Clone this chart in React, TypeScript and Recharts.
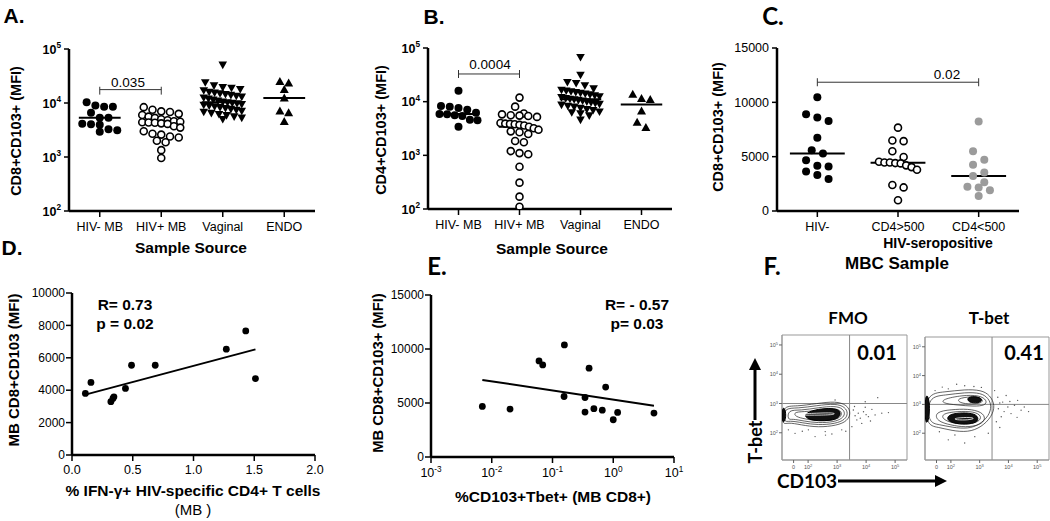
import React from 'react';
import { ScatterChart, Scatter, XAxis, YAxis, ReferenceLine, ReferenceArea } from 'recharts';

const ARIAL = '"Liberation Sans", Arial, sans-serif';
const CALIBRI = 'Lato, "Open Sans", sans-serif';

// A. CD8+CD103+ MFI by sample source (log axis)
const sourceCats = ['HIV- MB', 'HIV+ MB', 'Vaginal', 'ENDO'];
const aHivNegMB = [10350, 9000, 8500, 8500, 6600, 5350, 5350, 4150, 4050, 3960, 3250, 3130, 2950];
const aHivPosMB = [8370, 7500, 7000, 6800, 6300, 6000, 5600, 5300, 5000, 4800, 4600, 4500, 4400, 4350, 4300, 4200, 4100, 3700, 3500, 3000, 2700, 2600, 2400, 2300, 2000, 1870, 1340, 960];
const aVaginal = [50800, 24000, 21000, 19500, 19000, 18000, 17000, 16000, 15500, 15000, 14500, 14000, 13500, 13000, 12500, 12000, 11500, 11000, 10500, 10200, 10000, 9800, 9500, 9200, 8900, 8600, 8300, 8000, 7700, 7400, 7100, 6800, 6500, 6200, 5900, 5600, 5300, 5000];
const aEndo = [25000, 23400, 17700, 12400, 7100, 6600, 4520];

// B. CD4+CD103+ MFI by sample source (log axis)
const bHivNegMB = [16000, 8300, 8000, 7600, 7100, 6200, 5900, 5800, 5600, 5400, 4600, 4500, 3400];
const bHivPosMB = [11900, 8070, 6000, 5800, 5600, 5500, 5400, 5200, 4000, 3900, 3850, 3800, 3700, 3600, 3400, 3200, 3000, 2800, 2700, 2500, 1850, 1750, 1200, 1100, 1050, 614, 310, 170, 110];
const bVaginal = [67100, 31400, 23000, 22000, 20000, 17500, 16500, 16000, 15500, 15000, 14500, 14000, 13500, 13000, 12500, 12000, 11500, 11200, 11000, 10700, 10400, 10000, 9700, 9400, 9000, 8700, 8300, 8000, 7600, 7200, 6900, 6500, 6300, 6000, 5500, 4570];
const bEndo = [13700, 11500, 11000, 6700, 4140, 3300];

// C. CD8+CD103+ MFI in MBC samples
const mbcCats = ['HIV-', 'CD4>500', 'CD4<500'];
const cHivNeg = [10466, 8913, 8600, 8292, 6740, 5590, 5280, 4660, 4160, 4100, 3630, 3320, 2950];
const cCd4Above500 = [7670, 6490, 6430, 5500, 4970, 4530, 4470, 4470, 4410, 4380, 4200, 4040, 3790, 2390, 2170, 990];
const cCd4Below500 = [8230, 5500, 4720, 4250, 3540, 3230, 2640, 2230, 2170, 1920, 1370];

// D. correlation with % IFN-g+ HIV-specific CD4+ T cells
const dIfngPct = [0.11, 0.156, 0.32, 0.337, 0.345, 0.44, 0.49, 0.685, 1.27, 1.43, 1.51];
const dCd8Mfi = [3800, 4480, 3290, 3490, 3590, 4110, 5540, 5540, 6530, 7660, 4720];

// E. correlation with %CD103+Tbet+
const eTbetPct = [0.007, 0.02, 0.06, 0.069, 0.157, 0.155, 0.343, 0.343, 0.4, 0.48, 0.66, 0.75, 1.0, 1.18, 4.68];
const eCd8Mfi = [4680, 4435, 8900, 8530, 10380, 5600, 5510, 4160, 8220, 4470, 4340, 6470, 3450, 4130, 4070];

// F. flow plots, coordinates in decades (CD103, T-bet)
const fmoRing1 = [[1.1, 2.93], [1.6, 2.9], [2.3, 3.0], [2.95, 3.08], [3.35, 2.95], [3.48, 2.67], [3.35, 2.4], [3.0, 2.25], [2.35, 2.18], [1.75, 2.27], [1.3, 2.36], [1.1, 2.25]];
const fmoRing2 = [[1.15, 2.86], [1.65, 2.83], [2.3, 2.93], [2.95, 3.0], [3.28, 2.88], [3.38, 2.66], [3.28, 2.45], [2.95, 2.31], [2.35, 2.26], [1.8, 2.34], [1.35, 2.42], [1.15, 2.34]];
const fmoRing3 = [[1.3, 2.79], [1.75, 2.76], [2.35, 2.86], [2.95, 2.92], [3.2, 2.82], [3.28, 2.65], [3.18, 2.49], [2.9, 2.37], [2.35, 2.33], [1.85, 2.4], [1.45, 2.48], [1.3, 2.43]];
const fmoRing4 = [[1.5, 2.72], [2.0, 2.72], [2.5, 2.8], [3.0, 2.84], [3.18, 2.7], [3.12, 2.52], [2.85, 2.43], [2.35, 2.4], [1.9, 2.47], [1.55, 2.55]];
const fmoCore = [[2.1, 2.76], [2.6, 2.84], [3.0, 2.82], [3.14, 2.68], [3.05, 2.5], [2.8, 2.42], [2.35, 2.4], [2.0, 2.46], [1.85, 2.6]];
const fmoStreak = [[1.6, 2.64], [2.3, 2.67], [2.9, 2.69], [2.95, 2.62], [2.4, 2.6], [1.7, 2.6]];
const fmoFloor = [[1.1, 2.86], [1.2, 2.84], [1.24, 2.6], [1.2, 2.38], [1.1, 2.35]];
const fmoEvents = [[3.56, 2.78], [3.73, 2.67], [3.91, 2.72], [4.08, 2.55], [4.31, 2.61], [3.68, 2.44], [3.97, 2.87], [4.2, 2.8], [4.54, 2.67], [4.77, 2.69], [3.85, 2.32], [3.51, 2.21], [3.16, 2.1], [2.59, 2.04], [2.01, 2.1], [1.55, 1.98], [2.24, 1.87], [2.82, 1.96], [1.32, 2.1], [3.97, 3.06], [2.93, 3.12], [4.4, 3.2], [3.62, 2.58], [3.8, 2.5], [4.0, 2.62], [3.6, 2.9], [1.8, 2.05], [2.6, 1.92], [3.3, 2.05], [4.15, 2.4]];

const tbetRing1 = [[1.12, 3.38], [1.79, 3.43], [2.48, 3.52], [3.06, 3.5], [3.36, 3.32], [3.54, 2.97], [3.42, 2.57], [3.06, 2.21], [2.6, 2.03], [2.02, 2.09], [1.56, 2.21], [1.12, 2.27]];
const tbetRing2 = [[1.2, 3.27], [1.8, 3.32], [2.5, 3.42], [3.05, 3.4], [3.3, 3.22], [3.42, 2.95], [3.32, 2.6], [3.0, 2.3], [2.6, 2.15], [2.05, 2.2], [1.6, 2.3], [1.2, 2.36]];
const tbetUpper = [[1.7, 3.18], [2.4, 3.32], [3.0, 3.32], [3.26, 3.14], [3.2, 2.96], [2.8, 2.93], [2.2, 2.98], [1.7, 3.04]];
const tbetUpper2 = [[2.2, 3.2], [2.7, 3.28], [3.1, 3.22], [3.12, 3.05], [2.7, 3.0], [2.3, 3.05]];
const tbetLower = [[1.45, 2.74], [2.0, 2.82], [2.6, 2.85], [3.08, 2.74], [3.22, 2.5], [3.02, 2.28], [2.5, 2.2], [2.0, 2.28], [1.5, 2.42]];
const tbetLower2 = [[1.7, 2.68], [2.2, 2.76], [2.8, 2.76], [3.08, 2.6], [2.98, 2.38], [2.5, 2.3], [2.0, 2.36], [1.7, 2.5]];
const tbetCore = [[1.95, 2.66], [2.4, 2.72], [2.85, 2.68], [2.98, 2.5], [2.85, 2.34], [2.4, 2.3], [2.0, 2.37], [1.85, 2.5]];
const tbetUpperCore = [[2.55, 3.27], [2.95, 3.28], [3.12, 3.15], [2.95, 3.04], [2.6, 3.06]];
const tbetStreak = [[2.15, 2.53], [2.7, 2.56], [2.85, 2.5], [2.5, 2.45], [2.1, 2.47]];
const tbetFloor = [[1.1, 3.34], [1.22, 3.3], [1.27, 2.85], [1.22, 2.4], [1.1, 2.3]];
const tbetEvents = [[3.63, 3.25], [3.8, 3.08], [3.98, 2.91], [4.21, 2.97], [4.44, 2.8], [4.09, 2.68], [3.75, 2.57], [3.58, 2.4], [3.92, 3.31], [4.32, 3.14], [4.55, 2.91], [3.52, 3.48], [3.06, 3.59], [2.48, 3.65], [1.91, 3.54], [1.45, 3.48], [2.14, 1.94], [2.83, 1.88], [1.91, 1.77], [2.48, 1.66], [4.7, 2.75], [3.7, 2.2], [3.65, 2.85], [3.85, 2.75], [4.05, 3.1], [3.7, 3.05], [4.3, 2.55], [1.7, 3.6], [2.2, 3.7], [2.8, 3.62], [1.6, 2.05], [3.3, 2.0]];

type Rect = { x0: number; y0: number; x1: number; y1: number };

function frame(p: Rect, yW: number, xH: number, pad = { t: 12, r: 14, b: 4, l: 4 }) {
  return {
    style: { position: 'absolute' as const, left: p.x0 - yW - pad.l, top: p.y0 - pad.t },
    width: p.x1 - p.x0 + yW + pad.l + pad.r,
    height: p.y1 - p.y0 + xH + pad.t + pad.b,
    margin: { top: pad.t, right: pad.r, bottom: pad.b, left: pad.l },
  };
}

// column-scatter layout: points closer than d px vertically share a row, rows are spread symmetrically
function rowOffsets(pys: number[], d: number, half: number): number[] {
  const order = pys.map((_, i) => i).sort((a, b) => pys[a] - pys[b]);
  const out = new Array(pys.length).fill(0);
  let k = 0;
  while (k < order.length) {
    const start = pys[order[k]];
    const row: number[] = [];
    while (k < order.length && pys[order[k]] - start < d) row.push(order[k++]);
    const n = row.length;
    const step = n > 1 ? Math.min(d * 1.25, (2 * half) / (n - 1)) : 0;
    row.forEach((idx, j) => { out[idx] = (j - (n - 1) / 2) * step; });
  }
  return out;
}

function median(v: number[]) {
  const s = [...v].sort((a, b) => a - b);
  const m = Math.floor(s.length / 2);
  return s.length % 2 ? s[m] : (s[m - 1] + s[m]) / 2;
}

function linFit(xs: number[], ys: number[]) {
  const mx = xs.reduce((a, b) => a + b, 0) / xs.length;
  const my = ys.reduce((a, b) => a + b, 0) / ys.length;
  let sxy = 0, sxx = 0;
  xs.forEach((x, i) => { sxy += (x - mx) * (ys[i] - my); sxx += (x - mx) ** 2; });
  const b = sxy / sxx;
  return { a: my - b * mx, b };
}

const dotFilled = (p: any) => <circle cx={p.cx} cy={p.cy} r={4} fill="#000" />;
const dotOpen = (p: any) => <circle cx={p.cx} cy={p.cy} r={3.5} fill="#fff" stroke="#000" strokeWidth={1.6} />;
const dotGray = (p: any) => <circle cx={p.cx} cy={p.cy} r={4} fill="#9b9b9b" />;
const triDown = (p: any) => <path d={`M${p.cx - 4.3},${p.cy - 3.3}L${p.cx + 4.3},${p.cy - 3.3}L${p.cx},${p.cy + 4.3}Z`} fill="#000" />;
const triUp = (p: any) => <path d={`M${p.cx - 4.5},${p.cy + 3.5}L${p.cx + 4.5},${p.cy + 3.5}L${p.cx},${p.cy - 4.5}Z`} fill="#000" />;
const dotSmall = (p: any) => <circle cx={p.cx} cy={p.cy} r={3.4} fill="#000" />;
const noDot = () => <g />;

function PowTick(props: any) {
  const { x, y, payload, textAnchor, size, bold, axis } = props;
  const e = Math.round(Math.log10(payload.value));
  return (
    <text x={x} y={y} dy={axis === 'y' ? size * 0.36 : size * 0.71} textAnchor={textAnchor} fontSize={size}
      fontWeight={bold ? 700 : 400} fontFamily={ARIAL} fill="#000">
      10<tspan dy={-size * 0.42} fontSize={size * 0.66}>{String(e)}</tspan>
    </text>
  );
}

function FlowTick(props: any) {
  const { x, y, payload, textAnchor, axis } = props;
  const v = payload.value;
  return (
    <text x={x} y={y} dy={axis === 'y' ? 2 : 4} textAnchor={textAnchor} fontSize={5.5} fill="#555" fontFamily={ARIAL}>
      {v < 1.8 ? '0' : <>10<tspan dy={-2} fontSize={4}>{Math.round(v)}</tspan></>}
    </text>
  );
}

const thickAxis = { stroke: '#000', strokeWidth: 2.5 };
const thinTick = { stroke: '#000', strokeWidth: 1.5 };

type Group = { values: number[]; shape: (p: any) => React.ReactElement };

function DotPanel({ plot, cats, groups, log, domain, ticks, boldTicks, dia, half, bracket }: {
  plot: Rect; cats: string[]; groups: Group[]; log: boolean; domain: [number, number]; ticks: number[];
  boldTicks: boolean; dia: number; half: number; bracket: { from: number; to: number; y: number; y0: number; y1: number };
}) {
  const W = plot.x1 - plot.x0, H = plot.y1 - plot.y0;
  const band = W / cats.length;
  const toPx = (v: number) => log
    ? H * (Math.log10(domain[1]) - Math.log10(v)) / (Math.log10(domain[1]) - Math.log10(domain[0]))
    : H * (domain[1] - v) / (domain[1] - domain[0]);
  const yW = 50, xH = 30;
  const f = frame(plot, yW, xH);
  return (
    <div style={f.style}>
      <ScatterChart width={f.width} height={f.height} margin={f.margin}>
        <XAxis type="number" dataKey="x" domain={[-0.5, cats.length - 0.5]} ticks={cats.map((_, i) => i)}
          tickFormatter={(i: number) => cats[i]} interval={0} height={xH} allowDataOverflow
          axisLine={thickAxis} tickLine={thinTick} tickSize={6} tickMargin={5}
          tick={{ fill: '#000', fontSize: 12.5, fontFamily: ARIAL }} />
        <YAxis type="number" dataKey="y" scale={log ? 'log' : 'linear'} domain={domain} ticks={ticks} width={yW}
          allowDataOverflow axisLine={thickAxis} tickLine={thinTick} tickSize={5} tickMargin={3}
          tick={log ? (p: any) => <PowTick {...p} size={12.5} bold={boldTicks} axis="y" />
            : { fill: '#000', fontSize: 12.5, fontFamily: ARIAL }} />
        {groups.map((g, gi) => {
          const offs = rowOffsets(g.values.map(toPx), dia, half);
          const data = g.values.map((v, k) => ({ x: gi + offs[k] / band, y: v }));
          return <Scatter key={gi} data={data} shape={g.shape} isAnimationActive={false} />;
        })}
        {groups.map((g, gi) => (
          <ReferenceLine key={'m' + gi} ifOverflow="visible" stroke="#000" strokeWidth={2}
            segment={[{ x: gi - 0.34, y: median(g.values) }, { x: gi + 0.34, y: median(g.values) }]} />
        ))}
        <ReferenceLine ifOverflow="visible" stroke="#333" strokeWidth={1}
          segment={[{ x: bracket.from, y: bracket.y }, { x: bracket.to, y: bracket.y }]} />
        <ReferenceLine ifOverflow="visible" stroke="#333" strokeWidth={1}
          segment={[{ x: bracket.from, y: bracket.y0 }, { x: bracket.from, y: bracket.y1 }]} />
        <ReferenceLine ifOverflow="visible" stroke="#333" strokeWidth={1}
          segment={[{ x: bracket.to, y: bracket.y0 }, { x: bracket.to, y: bracket.y1 }]} />
      </ScatterChart>
    </div>
  );
}

function CorrPanel({ plot, xs, ys, logX, xDomain, xTicks, yDomain, yTicks }: {
  plot: Rect; xs: number[]; ys: number[]; logX: boolean; xDomain: [number, number]; xTicks: number[];
  yDomain: [number, number]; yTicks: number[];
}) {
  const yW = 50, xH = 30;
  const f = frame(plot, yW, xH);
  const fx = xs.map((x) => (logX ? Math.log10(x) : x));
  const fit = linFit(fx, ys);
  const lo = Math.min(...xs), hi = Math.max(...xs);
  const at = (x: number) => fit.a + fit.b * (logX ? Math.log10(x) : x);
  const data = xs.map((x, i) => ({ x, y: ys[i] }));
  return (
    <div style={f.style}>
      <ScatterChart width={f.width} height={f.height} margin={f.margin}>
        <XAxis type="number" dataKey="x" scale={logX ? 'log' : 'linear'} domain={xDomain} ticks={xTicks} interval={0}
          height={xH} allowDataOverflow axisLine={thickAxis} tickLine={thinTick} tickSize={6} tickMargin={logX ? 5 : 4}
          tickFormatter={(v: number) => v.toFixed(1)}
          tick={logX ? (p: any) => <PowTick {...p} size={12.5} axis="x" /> : { fill: '#000', fontSize: 12.5, fontFamily: ARIAL }} />
        <YAxis type="number" dataKey="y" domain={yDomain} ticks={yTicks} width={yW} allowDataOverflow
          axisLine={thickAxis} tickLine={thinTick} tickSize={6} tickMargin={1}
          tick={{ fill: '#000', fontSize: 12, fontFamily: ARIAL }} />
        <ReferenceLine ifOverflow="visible" stroke="#000" strokeWidth={2}
          segment={[{ x: lo, y: at(lo) }, { x: hi, y: at(hi) }]} />
        <Scatter data={data} shape={dotSmall} isAnimationActive={false} />
      </ScatterChart>
    </div>
  );
}

const pts = (arr: number[][]) => arr.map(([x, y]) => ({ x, y }));

function FlowPanel({ plot, rings, cores, streaks, events }: {
  plot: Rect; rings: number[][][]; cores: number[][][]; streaks: number[][][]; events: number[][];
}) {
  const yW = 16, xH = 14;
  const f = frame(plot, yW, xH, { t: 4, r: 4, b: 2, l: 2 });
  const xDom: [number, number] = [1.1, 5.41];
  const yDom: [number, number] = [1.07, 5.34];
  return (
    <div style={f.style}>
      <ScatterChart width={f.width} height={f.height} margin={f.margin}>
        <XAxis type="number" dataKey="x" domain={xDom} ticks={[1.5, 2, 3, 4, 5]} interval={0} height={xH} allowDataOverflow
          axisLine={{ stroke: '#999', strokeWidth: 1 }} tickLine={{ stroke: '#666' }} tickSize={3} tickMargin={2}
          tick={(p: any) => <FlowTick {...p} axis="x" />} />
        <YAxis type="number" dataKey="y" domain={yDom} ticks={[1.57, 2, 3, 4, 5]} width={yW} allowDataOverflow
          axisLine={{ stroke: '#999', strokeWidth: 1 }} tickLine={{ stroke: '#666' }} tickSize={3} tickMargin={1}
          tick={(p: any) => <FlowTick {...p} axis="y" />} />
        <ReferenceArea x1={xDom[0]} x2={xDom[1]} y1={yDom[0]} y2={yDom[1]} fill="none" stroke="#999" strokeWidth={1} />
        <Scatter data={pts(events)} shape={(p: any) => <circle cx={p.cx} cy={p.cy} r={0.7} fill="#555" />} isAnimationActive={false} />
        {rings.map((r, i) => (
          <Scatter key={'r' + i} data={pts(r)} line={{ stroke: '#222', strokeWidth: 0.7 }} lineJointType="basisClosed"
            shape={noDot} isAnimationActive={false} />
        ))}
        {cores.map((r, i) => (
          <Scatter key={'c' + i} data={pts(r)} line={{ stroke: '#000', strokeWidth: 1, fill: '#111' }} lineJointType="basisClosed"
            shape={noDot} isAnimationActive={false} />
        ))}
        {streaks.map((r, i) => (
          <Scatter key={'s' + i} data={pts(r)} line={{ stroke: '#fff', strokeWidth: 0.8 }} lineJointType="basisClosed"
            shape={noDot} isAnimationActive={false} />
        ))}
        <ReferenceLine x={3.43} stroke="#888" strokeWidth={1} />
        <ReferenceLine y={3.0} stroke="#888" strokeWidth={1} />
      </ScatterChart>
    </div>
  );
}

function Txt({ x, y, size, bold = true, font = ARIAL, rot = false, children }: {
  x: number; y: number; size: number; bold?: boolean; font?: string; rot?: boolean; children: React.ReactNode;
}) {
  return (
    <div style={{
      position: 'absolute', left: x, top: y, transform: `translate(-50%,-50%)${rot ? ' rotate(-90deg)' : ''}`,
      fontSize: size, fontWeight: bold ? 700 : 400, fontFamily: font, lineHeight: 1, whiteSpace: 'nowrap', color: '#000',
    }}>{children}</div>
  );
}

export default function App() {
  return (
    <div style={{ position: 'absolute', left: 0, top: 0, width: 1050, height: 521, background: '#fff', overflow: 'hidden' }}>
      <DotPanel plot={{ x0: 69, y0: 49, x1: 315, y1: 211 }} cats={sourceCats} log domain={[100, 100000]}
        ticks={[100, 1000, 10000, 100000]} boldTicks dia={7} half={19}
        groups={[{ values: aHivNegMB, shape: dotFilled }, { values: aHivPosMB, shape: dotOpen },
          { values: aVaginal, shape: triDown }, { values: aEndo, shape: triUp }]}
        bracket={{ from: 0, to: 1, y: 17700, y0: 14300, y1: 20000 }} />
      <DotPanel plot={{ x0: 428, y0: 48, x1: 672, y1: 209 }} cats={sourceCats} log domain={[100, 100000]}
        ticks={[100, 1000, 10000, 100000]} boldTicks dia={7} half={19}
        groups={[{ values: bHivNegMB, shape: dotFilled }, { values: bHivPosMB, shape: dotOpen },
          { values: bVaginal, shape: triDown }, { values: bEndo, shape: triUp }]}
        bracket={{ from: 0, to: 1, y: 32800, y0: 27600, y1: 38900 }} />
      <DotPanel plot={{ x0: 777, y0: 48, x1: 1019, y1: 211 }} cats={mbcCats} log={false} domain={[0, 15000]}
        ticks={[0, 5000, 10000, 15000]} boldTicks={false} dia={9} half={19}
        groups={[{ values: cHivNeg, shape: dotFilled }, { values: cCd4Above500, shape: dotOpen },
          { values: cCd4Below500, shape: dotGray }]}
        bracket={{ from: 0, to: 2, y: 11850, y0: 11480, y1: 12220 }} />
      <CorrPanel plot={{ x0: 72, y0: 293, x1: 315, y1: 455 }} xs={dIfngPct} ys={dCd8Mfi} logX={false}
        xDomain={[0, 2]} xTicks={[0, 0.5, 1, 1.5, 2]} yDomain={[0, 10000]} yTicks={[0, 2000, 4000, 6000, 8000, 10000]} />
      <CorrPanel plot={{ x0: 431, y0: 295, x1: 674, y1: 457 }} xs={eTbetPct} ys={eCd8Mfi} logX
        xDomain={[0.001, 10]} xTicks={[0.001, 0.01, 0.1, 1, 10]} yDomain={[0, 15000]} yTicks={[0, 5000, 10000, 15000]} />
      <FlowPanel plot={{ x0: 782, y0: 335, x1: 907, y1: 460 }} rings={[fmoRing1, fmoRing2, fmoRing3, fmoRing4]}
        cores={[fmoCore, fmoFloor]} streaks={[fmoStreak]} events={fmoEvents} />
      <FlowPanel plot={{ x0: 925, y0: 337, x1: 1049, y1: 460 }}
        rings={[tbetRing1, tbetRing2, tbetUpper, tbetUpper2, tbetLower, tbetLower2]}
        cores={[tbetCore, tbetUpperCore, tbetFloor]} streaks={[tbetStreak]} events={tbetEvents} />

      <Txt x={14} y={15} size={21}>A.</Txt>
      <Txt x={16} y={131} size={14.5} rot>CD8+CD103+ (MFI)</Txt>
      <Txt x={128} y={83} size={13.5} bold={false}>0.035</Txt>
      <Txt x={191} y={248} size={15.5}>Sample Source</Txt>

      <Txt x={434} y={16} size={21}>B.</Txt>
      <Txt x={381} y={130} size={14.5} rot>CD4+CD103+ (MFI)</Txt>
      <Txt x={490} y={65} size={13.5} bold={false}>0.0004</Txt>
      <Txt x={552} y={249} size={15.5}>Sample Source</Txt>

      <Txt x={773} y={16} size={24} font={CALIBRI}>C.</Txt>
      <Txt x={718} y={127} size={14.5} rot>CD8+CD103+ (MFI)</Txt>
      <Txt x={947} y={75} size={13.5} bold={false}>0.02</Txt>
      <Txt x={938} y={243} size={14}>HIV-seropositive</Txt>
      <Txt x={897} y={263} size={17}>MBC Sample</Txt>

      <Txt x={12} y={247} size={21}>D.</Txt>
      <Txt x={13} y={370} size={15} rot>MB CD8+CD103 (MFI)</Txt>
      <Txt x={125} y={305} size={15.5}>R= 0.73</Txt>
      <Txt x={125} y={324} size={15.5}>p = 0.02</Txt>
      <Txt x={193} y={491} size={15.5}>% IFN-γ+ HIV-specific CD4+ T cells</Txt>
      <Txt x={193} y={509} size={15} bold={false}>(MB )</Txt>

      <Txt x={437} y={266} size={24} font={CALIBRI}>E.</Txt>
      <Txt x={378} y={373} size={14.8} rot>MB CD8+CD103+ (MFI)</Txt>
      <Txt x={637} y={305} size={15.5}>R= - 0.57</Txt>
      <Txt x={637} y={324} size={15.5}>p= 0.03</Txt>
      <Txt x={553} y={497} size={15.5}>%CD103+Tbet+ (MB CD8+)</Txt>

      <Txt x={772} y={266} size={24} font={CALIBRI}>F.</Txt>
      <Txt x={848} y={317} size={17} font={CALIBRI}>FMO</Txt>
      <Txt x={989} y={317} size={17} font={CALIBRI}>T-bet</Txt>
      <Txt x={877} y={352} size={20} font={CALIBRI}>0.01</Txt>
      <Txt x={1024} y={352} size={20} font={CALIBRI}>0.41</Txt>
      <Txt x={755} y={442} size={18} font={CALIBRI} rot>T-bet</Txt>
      <Txt x={807} y={480} size={19} font={CALIBRI}>CD103</Txt>
      <svg style={{ position: 'absolute', left: 0, top: 0, pointerEvents: 'none' }} width={1050} height={521}>
        <line x1={755} y1={420} x2={755} y2={368} stroke="#000" strokeWidth={3} />
        <path d="M749,370 L761,370 L755,358 Z" fill="#000" />
        <line x1={838} y1={481} x2={937} y2={481} stroke="#000" strokeWidth={3} />
        <path d="M935,475 L935,487 L947,481 Z" fill="#000" />
      </svg>
    </div>
  );
}
